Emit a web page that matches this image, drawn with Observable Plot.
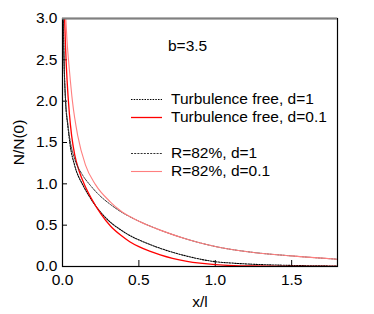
<!DOCTYPE html>
<html>
<head>
<meta charset="utf-8">
<script src="https://cdn.jsdelivr.net/npm/d3@7"></script>
<script src="https://cdn.jsdelivr.net/npm/@observablehq/plot@0.6"></script>
<style>
  html, body { margin: 0; padding: 0; background: #fff; }
  #wrap { position: relative; width: 374px; height: 314px; font-family: "Liberation Sans", Arial, sans-serif; }
  #legend { position: absolute; left: 0; top: 0; width: 374px; height: 314px; pointer-events: none; font-size: 15.5px; color: #000; }
  .row { position: absolute; left: 131px; height: 18px; display: flex; align-items: center; white-space: nowrap; }
  .row svg { margin-right: 9px; }
  #blabel { position: absolute; left: 168px; top: 37px; font-size: 15.5px; }
</style>
</head>
<body>
<div id="wrap"><div id="chart"></div><div id="legend"></div></div>
<script>
// Axis ticks
const xTicks = [0, 0.5, 1.0, 1.5];
const yTicks = [0, 0.5, 1.0, 1.5, 2.0, 2.5, 3.0];
const xDomain = [0, 1.8];
const yDomain = [0, 3];

// Turbulence free, d=1 (black dotted)
const tf1X = [0.004, 0.010, 0.020, 0.035, 0.050, 0.080, 0.135, 0.172, 0.250, 0.314, 0.380, 0.440, 0.500, 0.640, 0.815, 1.000, 1.120, 1.250, 1.500, 1.800];
const tf1Y = [3.10, 2.50, 2.00, 1.70, 1.47, 1.22, 0.98, 0.86, 0.655, 0.535, 0.445, 0.375, 0.322, 0.22, 0.125, 0.058, 0.040, 0.027, 0.013, 0.006];

// Turbulence free, d=0.1 (red solid)
const tf01X = [0.012, 0.020, 0.030, 0.045, 0.060, 0.080, 0.110, 0.144, 0.190, 0.250, 0.314, 0.380, 0.440, 0.500, 0.570, 0.640, 0.720, 0.815, 0.900, 1.000, 1.120, 1.250, 1.500, 1.800];
const tf01Y = [3.10, 2.65, 2.25, 1.85, 1.58, 1.35, 1.15, 0.99, 0.82, 0.64, 0.49, 0.38, 0.30, 0.24, 0.185, 0.14, 0.098, 0.062, 0.040, 0.022, 0.011, 0.006, 0.002, 0.001];

// R=82%, d=1 (dark grey dotted)
const r1X = [0.004, 0.010, 0.020, 0.035, 0.050, 0.080, 0.130, 0.183, 0.237, 0.314, 0.380, 0.450, 0.500, 0.640, 0.815, 1.000, 1.250, 1.500, 1.800];
const r1Y = [3.10, 2.50, 2.02, 1.72, 1.52, 1.30, 1.11, 0.98, 0.87, 0.75, 0.665, 0.593, 0.548, 0.44, 0.33, 0.242, 0.17, 0.128, 0.088];

// R=82%, d=0.1 (light red)
const r01X = [0.020, 0.030, 0.045, 0.065, 0.100, 0.150, 0.216, 0.314, 0.380, 0.450, 0.500, 0.640, 0.815, 1.000, 1.250, 1.500, 1.800];
const r01Y = [3.05, 2.72, 2.38, 2.00, 1.58, 1.23, 0.99, 0.78, 0.675, 0.595, 0.548, 0.44, 0.33, 0.242, 0.17, 0.128, 0.088];

const series = [
  {label: "Turbulence free, d=1", x: tf1X, y: tf1Y, stroke: "#000000", width: 1.1, dash: "1.5,1.2"},
  {label: "Turbulence free, d=0.1", x: tf01X, y: tf01Y, stroke: "#ff0000", width: 1.3, dash: null},
  {label: "R=82%, d=1", x: r1X, y: r1Y, stroke: "#333333", width: 1.0, dash: "2,1.2"},
  {label: "R=82%, d=0.1", x: r01X, y: r01Y, stroke: "#ff7f7f", width: 1.1, dash: null}
];

const lineMarks = series.map(s => Plot.line(s.x.map((v, i) => ({x: v, y: s.y[i]})), {
  x: "x", y: "y", stroke: s.stroke, strokeWidth: s.width,
  strokeDasharray: s.dash || undefined, curve: "monotone-x", clip: true
}));

const fmt = d3.format(".1f");

const chart = Plot.plot({
  width: 374,
  height: 314,
  marginLeft: 62,
  marginRight: 37,
  marginTop: 18,
  marginBottom: 48,
  style: {fontFamily: "'Liberation Sans', Arial, sans-serif", fontSize: "15.5px", color: "#000", background: "#fff"},
  x: {domain: xDomain},
  y: {domain: yDomain},
  marks: [
    // ticks drawn inward
    Plot.axisX({ticks: xTicks, tickSize: 6, dy: -6, tickFormat: () => "", label: null}),
    Plot.axisY({ticks: yTicks, tickSize: 5, dx: 5, tickFormat: () => "", label: null}),
    // labels
    Plot.axisX({ticks: xTicks, tickSize: 0, tickPadding: 7, tickFormat: fmt, label: "x/l", labelAnchor: "center", labelArrow: "none", labelOffset: 40}),
    Plot.axisY({ticks: yTicks, tickSize: 0, tickPadding: 5, tickFormat: fmt, label: "N/N(0)", labelAnchor: "center", labelArrow: "none", labelOffset: 50}),
    ...lineMarks,
    Plot.frame({stroke: "#000", strokeWidth: 1.2}),
    Plot.ruleY([yDomain[1]], {stroke: "#808080", strokeWidth: 2})
  ]
});
document.getElementById("chart").appendChild(chart);

// Legend overlay
const legend = document.getElementById("legend");
const b = document.createElement("div");
b.id = "blabel";
b.textContent = "b=3.5";
legend.appendChild(b);
const rowTops = [90, 108, 144, 162];
series.forEach((s, i) => {
  const row = document.createElement("div");
  row.className = "row";
  row.style.top = rowTops[i] + "px";
  const svg = d3.create("svg").attr("width", 31).attr("height", 18);
  svg.append("line").attr("x1", 0).attr("x2", 31).attr("y1", 9.5).attr("y2", 9.5)
    .attr("stroke", s.stroke).attr("stroke-width", s.width)
    .attr("stroke-dasharray", s.dash);
  row.appendChild(svg.node());
  const t = document.createElement("span");
  t.textContent = s.label;
  row.appendChild(t);
  legend.appendChild(row);
});
</script>
</body>
</html>
